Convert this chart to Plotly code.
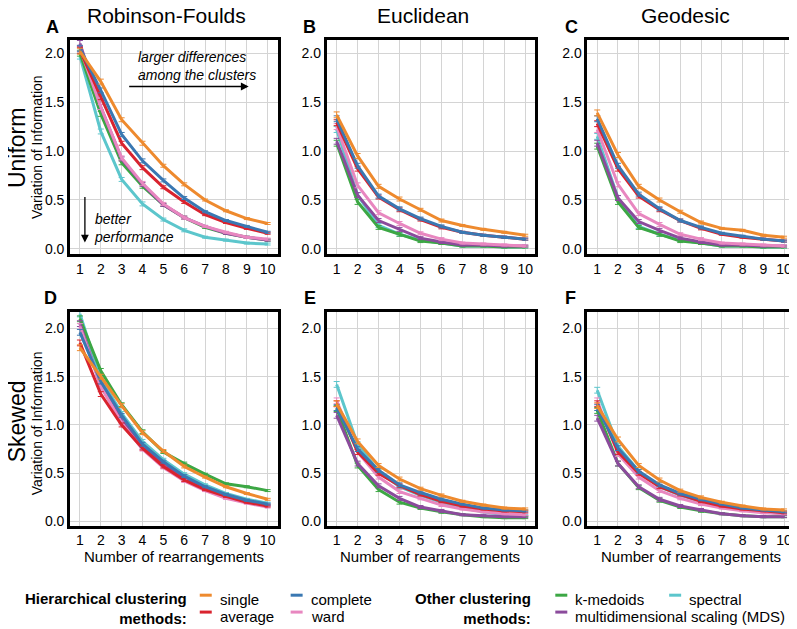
import plotly.graph_objects as go

# the page adds an 8px body margin, so the figure is drawn 8px smaller
OFF = 8
W, H = 797 - OFF, 629 - OFF

rearrangements = list(range(1, 11))
methods = ["single", "average", "complete", "ward", "k-medoids",
           "multidimensional scaling (MDS)", "spectral"]
method_colors = ["#ee8a2e", "#d9232e", "#3a78b2", "#e887c0", "#3ca744", "#8b4b9c", "#5cc6cc"]

# rows follow the order of `methods`
rf_uniform = [
    [2.02, 1.71, 1.32, 1.08, 0.85, 0.66, 0.50, 0.39, 0.31, 0.26],
    [2.03, 1.55, 1.08, 0.83, 0.63, 0.48, 0.35, 0.27, 0.21, 0.16],
    [2.05, 1.62, 1.17, 0.90, 0.70, 0.52, 0.38, 0.29, 0.23, 0.17],
    [2.05, 1.45, 0.93, 0.67, 0.46, 0.32, 0.23, 0.17, 0.12, 0.10],
    [2.00, 1.38, 0.88, 0.64, 0.45, 0.32, 0.22, 0.16, 0.12, 0.09],
    [2.10, 1.45, 0.92, 0.66, 0.45, 0.32, 0.23, 0.16, 0.12, 0.09],
    [1.97, 1.20, 0.71, 0.46, 0.30, 0.19, 0.12, 0.09, 0.06, 0.05],
]
euc_uniform = [
    [1.37, 0.95, 0.64, 0.51, 0.40, 0.29, 0.24, 0.20, 0.17, 0.14],
    [1.29, 0.82, 0.53, 0.40, 0.30, 0.22, 0.17, 0.14, 0.12, 0.10],
    [1.33, 0.85, 0.54, 0.41, 0.31, 0.23, 0.17, 0.14, 0.12, 0.10],
    [1.25, 0.65, 0.37, 0.26, 0.16, 0.10, 0.06, 0.05, 0.04, 0.03],
    [1.08, 0.48, 0.22, 0.15, 0.08, 0.06, 0.03, 0.03, 0.02, 0.02],
    [1.10, 0.55, 0.29, 0.20, 0.11, 0.07, 0.04, 0.04, 0.03, 0.03],
    [1.22, 0.55, 0.24, 0.15, 0.09, 0.06, 0.03, 0.03, 0.02, 0.02],
]
geo_uniform = [
    [1.39, 0.96, 0.64, 0.50, 0.38, 0.27, 0.21, 0.19, 0.14, 0.12],
    [1.28, 0.82, 0.54, 0.40, 0.29, 0.21, 0.15, 0.12, 0.10, 0.08],
    [1.33, 0.85, 0.56, 0.41, 0.29, 0.22, 0.16, 0.13, 0.10, 0.08],
    [1.22, 0.66, 0.36, 0.25, 0.15, 0.10, 0.06, 0.05, 0.04, 0.03],
    [1.05, 0.48, 0.22, 0.15, 0.08, 0.06, 0.03, 0.03, 0.02, 0.02],
    [1.08, 0.52, 0.28, 0.19, 0.11, 0.07, 0.04, 0.04, 0.03, 0.03],
    [1.15, 0.52, 0.23, 0.15, 0.09, 0.06, 0.03, 0.03, 0.02, 0.02],
]
rf_skewed = [
    [1.80, 1.50, 1.20, 0.92, 0.73, 0.57, 0.46, 0.36, 0.29, 0.23],
    [1.85, 1.32, 1.00, 0.76, 0.57, 0.43, 0.33, 0.26, 0.20, 0.16],
    [1.96, 1.45, 1.10, 0.80, 0.62, 0.47, 0.36, 0.28, 0.22, 0.18],
    [2.02, 1.40, 1.02, 0.75, 0.56, 0.42, 0.32, 0.24, 0.19, 0.15],
    [2.10, 1.56, 1.21, 0.93, 0.72, 0.60, 0.49, 0.39, 0.36, 0.32],
    [2.05, 1.40, 1.05, 0.77, 0.60, 0.45, 0.34, 0.27, 0.21, 0.17],
    [2.15, 1.48, 1.12, 0.83, 0.64, 0.49, 0.38, 0.29, 0.23, 0.19],
]
euc_skewed = [
    [1.22, 0.83, 0.58, 0.44, 0.34, 0.27, 0.21, 0.17, 0.14, 0.13],
    [1.22, 0.72, 0.50, 0.37, 0.28, 0.21, 0.16, 0.13, 0.11, 0.10],
    [1.18, 0.75, 0.53, 0.38, 0.30, 0.23, 0.18, 0.14, 0.12, 0.11],
    [1.25, 0.72, 0.46, 0.31, 0.24, 0.17, 0.13, 0.10, 0.08, 0.07],
    [1.17, 0.58, 0.33, 0.20, 0.14, 0.10, 0.07, 0.05, 0.04, 0.04],
    [1.10, 0.60, 0.37, 0.24, 0.15, 0.11, 0.07, 0.06, 0.05, 0.05],
    [1.42, 0.80, 0.52, 0.36, 0.27, 0.20, 0.14, 0.10, 0.07, 0.06],
]
geo_skewed = [
    [1.20, 0.85, 0.58, 0.43, 0.32, 0.25, 0.20, 0.16, 0.13, 0.12],
    [1.22, 0.72, 0.50, 0.36, 0.28, 0.21, 0.16, 0.13, 0.11, 0.09],
    [1.18, 0.76, 0.52, 0.38, 0.29, 0.23, 0.18, 0.14, 0.12, 0.10],
    [1.25, 0.70, 0.46, 0.32, 0.24, 0.18, 0.14, 0.11, 0.09, 0.08],
    [1.15, 0.60, 0.35, 0.22, 0.15, 0.11, 0.08, 0.06, 0.05, 0.05],
    [1.07, 0.60, 0.36, 0.23, 0.16, 0.12, 0.08, 0.06, 0.05, 0.05],
    [1.36, 0.78, 0.52, 0.36, 0.27, 0.21, 0.16, 0.12, 0.10, 0.08],
]
# rough size of the error bars, per number of rearrangements
err_bar = [0.03, 0.025, 0.02, 0.02, 0.015, 0.015, 0.01, 0.01, 0.01, 0.01]

col_titles = ["Robinson-Foulds", "Euclidean", "Geodesic"]
row_titles = ["Uniform", "Skewed"]
panel_letters = ["A", "B", "C", "D", "E", "F"]
panels = [rf_uniform, euc_uniform, geo_uniform, rf_skewed, euc_skewed, geo_skewed]
draw_order = [6, 4, 5, 3, 1, 2, 0]

FONT = "Liberation Sans, Arial, Helvetica, sans-serif"

# panel boxes in screen pixels (left, right) and (top, bottom)
col_px = [(70, 278), (327, 536), (588, 795)]
row_px = [(40, 256), (314, 529)]
row_yrange = [[-0.056, 2.137], [-0.043, 2.17]]


def px_x(x):
    return (x - OFF) / W


def px_y(y):
    return 1 - (y - OFF) / H


def label(text, x, y, size, xanchor="center", **kw):
    return dict(text=text, x=px_x(x), y=px_y(y), xref="paper", yref="paper",
                xanchor=xanchor, yanchor="middle", showarrow=False,
                font=dict(size=size, color="black", family=FONT), **kw)


fig = go.Figure()

for i, panel in enumerate(panels):
    r, c = divmod(i, 3)
    n = i + 1
    xa = "x" if n == 1 else f"x{n}"
    ya = "y" if n == 1 else f"y{n}"
    for k in draw_order:
        fig.add_trace(go.Scatter(
            x=rearrangements, y=panel[k], mode="lines",
            line=dict(color=method_colors[k], width=3),
            error_y=dict(type="data", array=err_bar, color=method_colors[k],
                         thickness=1, width=3),
            xaxis=xa, yaxis=ya, showlegend=False, name=methods[k],
        ))
    axis_common = dict(showgrid=True, gridcolor="#d4d4d4", gridwidth=1,
                       showline=True, mirror=True, linecolor="black", linewidth=2.5,
                       zeroline=False, ticks="", tickfont=dict(size=14, color="black"))
    fig.update_layout({
        f"xaxis{'' if n == 1 else n}": dict(
            domain=[px_x(col_px[c][0]), px_x(col_px[c][1])],
            range=[0.52, 10.48], tickvals=rearrangements, anchor=ya, **axis_common),
        f"yaxis{'' if n == 1 else n}": dict(
            domain=[px_y(row_px[r][1]), px_y(row_px[r][0])],
            range=row_yrange[r], tickvals=[0, 0.5, 1, 1.5, 2], tickformat=".1f",
            anchor=xa, **axis_common),
    })

annotations = []
for text, cx in zip(col_titles, [167, 424, 686]):
    annotations.append(label(text, cx, 16, 21))
letter_pos = [(53, 27), (310, 27), (572, 27), (51, 300), (310, 300), (571, 300)]
for letter, (lx, ly) in zip(panel_letters, letter_pos):
    annotations.append(label(f"<b>{letter}</b>", lx, ly, 18))
for text, cy in zip(row_titles, [148, 424]):
    annotations.append(label(text, 17, cy, 23, textangle=-90))
for cy in [148, 426]:
    annotations.append(label("Variation of Information", 37, cy, 14, textangle=-90))
for cx in [174, 431, 692]:
    annotations.append(label("Number of rearrangements", cx, 560, 15))

# notes in panel A
annotations += [
    label("<i>larger differences<br>among the clusters</i>", 136, 66, 14,
          xanchor="left", align="left"),
    dict(text="", x=px_x(249), y=px_y(87), ax=-121, ay=0, xref="paper", yref="paper",
         showarrow=True, arrowhead=2, arrowsize=1.2, arrowwidth=1.3, arrowcolor="black"),
    label("<i>better<br>performance</i>", 92, 229, 14, xanchor="left", align="left"),
    dict(text="", x=px_x(85), y=px_y(244), ax=0, ay=-47, xref="paper", yref="paper",
         showarrow=True, arrowhead=2, arrowsize=1.2, arrowwidth=1.3, arrowcolor="black"),
]

# legend built from text and short swatches
row1, row2 = 603, 620
annotations += [
    label("<b>Hierarchical clustering</b><br><b>methods:</b>", 189, 612, 15,
          xanchor="right", align="right"),
    label("<b>Other clustering</b><br><b>methods:</b>", 534, 612, 15,
          xanchor="right", align="right"),
]
legend_slots = [(0, 200, row1), (1, 200, row2), (2, 291, row1), (3, 291, row2),
                (4, 556, row1), (5, 556, row2), (6, 670, row1)]
shapes = []
for k, sx, sy in legend_slots:
    shapes.append(dict(type="line", xref="paper", yref="paper",
                       x0=px_x(sx), x1=px_x(sx + 12), y0=px_y(sy - 4), y1=px_y(sy - 4),
                       line=dict(color=method_colors[k], width=3)))
    annotations.append(label(methods[k], sx + 18, sy, 15, xanchor="left"))

fig.update_layout(
    width=W, height=H,
    margin=dict(l=0, r=0, t=0, b=0),
    paper_bgcolor="white", plot_bgcolor="white",
    font=dict(family=FONT, color="black"),
    annotations=annotations, shapes=shapes,
    showlegend=False,
)

fig.write_html("out.html")
